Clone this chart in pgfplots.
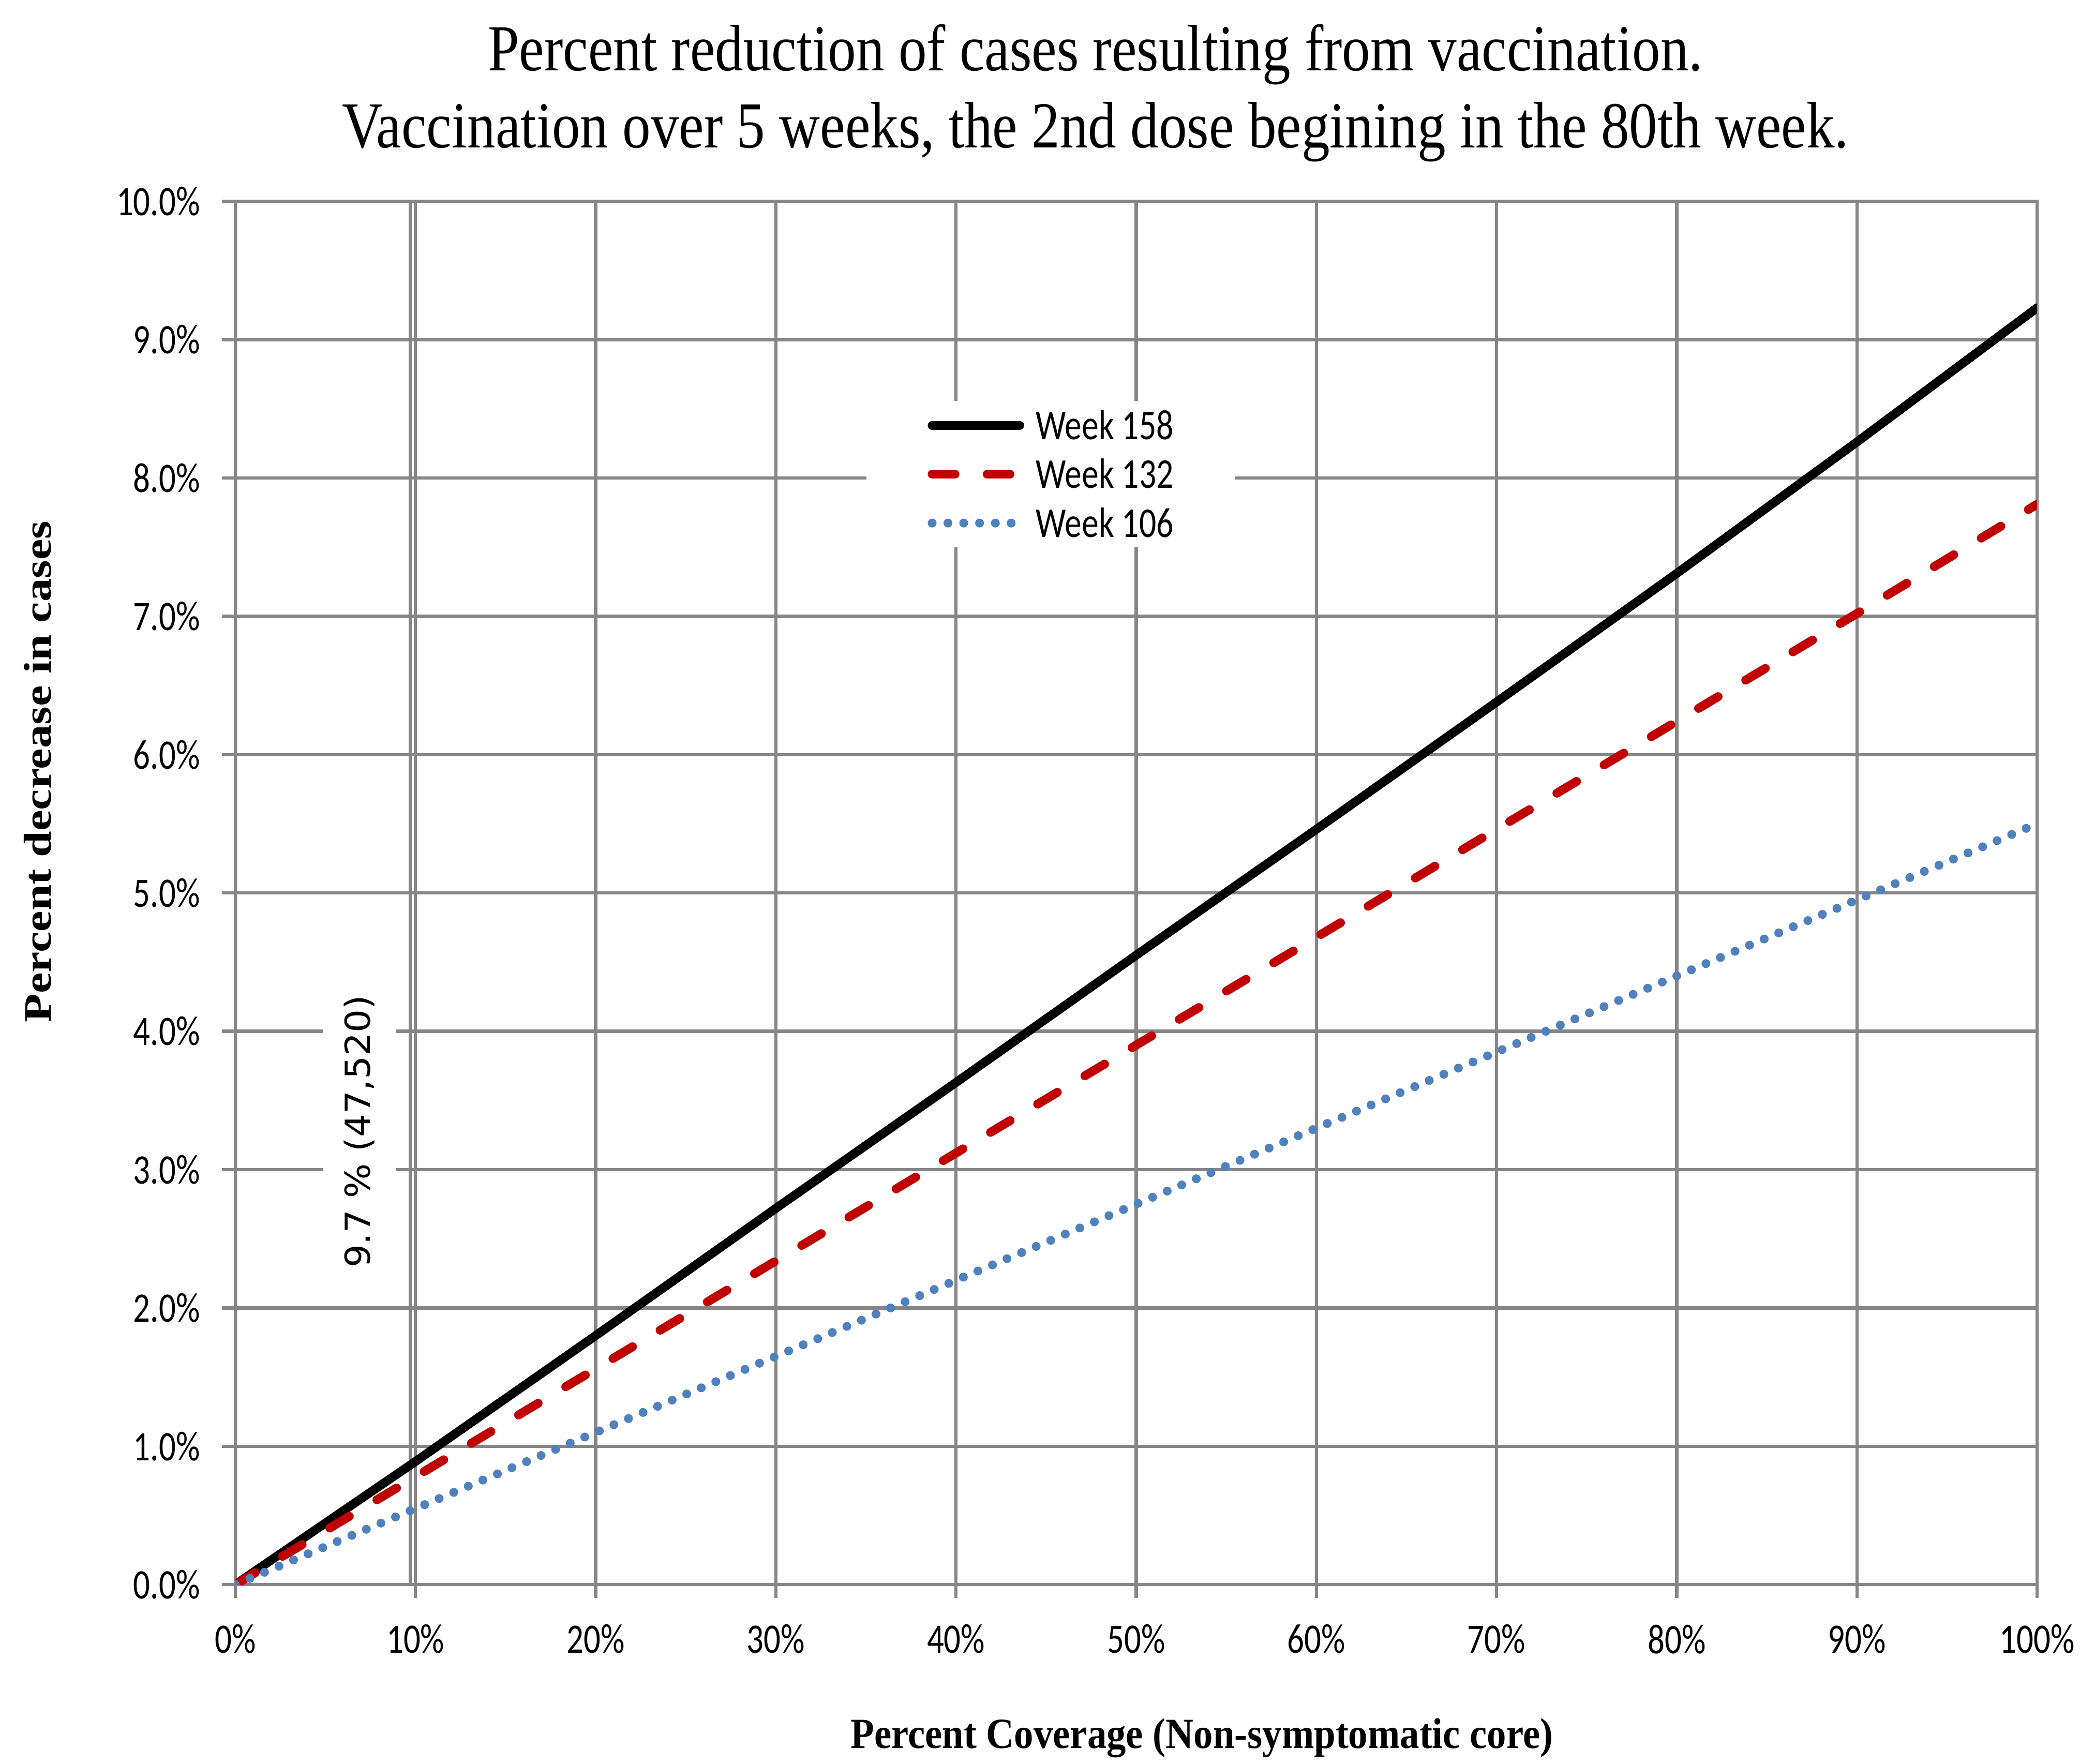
\documentclass[border=0pt]{standalone}
\usepackage{pgfplots}
\pgfplotsset{compat=1.18}
\usepackage{fontspec}
\setmainfont{Liberation Serif}
% the reference is drawn a little tall, so the fonts are stretched to match
\newfontfamily\titlefont[FakeStretch=0.86]{Liberation Serif}
\newfontfamily\xlabfont[FakeStretch=0.90]{Liberation Serif}
\newfontfamily\ylabfont[FakeStretch=1.21]{Liberation Serif}
\newfontfamily\tickfont[FakeStretch=0.80]{Carlito}
\newfontfamily\annofont[FakeStretch=1.06]{DejaVu Sans}

\definecolor{gridgray}{RGB}{134,134,134}
\definecolor{wkred}{RGB}{192,0,0}
\definecolor{wkblue}{RGB}{79,129,189}

\begin{document}
\begin{tikzpicture}
\path[use as bounding box] (0,0) rectangle (15.68,13.297);
\begin{axis}[
    at={(1.774cm,1.352cm)}, anchor=south west,
    width=13.582cm, height=10.427cm, scale only axis,
    xmin=0, xmax=100, ymin=0, ymax=10,
    xtick={0,10,...,100}, ytick={0,1,...,10},
    extra x ticks={9.7}, extra x tick labels={},
    extra x tick style={grid=major, major tick length=0pt},
    grid=major,
    grid style={gridgray, line width=0.7pt},
    axis line style={gridgray, line width=0.7pt},
    tick style={gridgray, line width=0.7pt},
    major tick length=0.1cm, tick align=outside, tick pos=left,
    /pgf/number format/assume math mode=true,
    xticklabel={\pgfmathprintnumber{\tick}\%},
    yticklabel={\pgfmathprintnumber[fixed,fixed zerofill,precision=1]{\tick}\%},
    ticklabel style={font=\tickfont\fontsize{9}{10}\selectfont},
    xticklabel style={anchor=north, inner sep=0pt, yshift=-0.195cm},
    yticklabel style={anchor=east, inner sep=0pt, xshift=-0.16cm},
    legend style={at={(0.4525,0.8027)}, anchor=center, draw=none, fill=white,
        inner xsep=0.46cm, inner ysep=0pt, row sep=0pt, column sep=0.09cm,
        font=\tickfont\fontsize{9.1}{10}\selectfont,
        nodes={inner sep=0pt, text height=0.289cm, text depth=0.079cm}},
    legend cell align=left,
    legend image code/.code={\draw[#1] (0cm,0cm) -- (0.66cm,0cm);},
]
\addplot[black, line width=1.9pt, line cap=round] coordinates {
    (0,0) (10,0.89) (20,1.80) (30,2.72) (40,3.63) (50,4.55)
    (60,5.46) (70,6.38) (80,7.31) (90,8.26) (100,9.23)};
\addlegendentry{Week 158}
\addplot[wkred, line width=1.9pt, line cap=round, dash pattern=on 4.9pt off 6.9pt] coordinates {
    (0,0) (10,0.78) (20,1.56) (30,2.34) (40,3.12) (50,3.90)
    (60,4.68) (70,5.46) (80,6.24) (90,7.02) (100,7.81)};
\addlegendentry{Week 132}
\addplot[wkblue, line width=1.9pt, line cap=round, dash pattern=on 0pt off 3.39pt] coordinates {
    (0,0) (10,0.55) (20,1.10) (30,1.65) (40,2.20) (50,2.75)
    (60,3.30) (70,3.85) (80,4.40) (90,4.95) (100,5.50)};
\addlegendentry{Week 106}

\node[rotate=90, fill=white, inner xsep=0.1cm, inner ysep=0.16cm,
    font=\annofont\fontsize{7.4}{9}\selectfont] at (axis cs:6.89,3.275) {9.7 \% (47,520)};
\end{axis}

\node[anchor=base, font=\titlefont\fontsize{14.08}{16.5}\selectfont] at (8.257,12.763)
    {Percent reduction of cases resulting from vaccination.};
\node[anchor=base, font=\titlefont\fontsize{14.08}{16.5}\selectfont] at (8.257,12.182)
    {Vaccination over 5 weeks, the 2nd dose begining in the 80th week.};
\node[anchor=base, font=\xlabfont\bfseries\fontsize{9.22}{11}\selectfont] at (9.06,0.117)
    {Percent Coverage (Non-symptomatic core)};
\node[rotate=90, anchor=base, font=\ylabfont\bfseries\fontsize{8.34}{10}\selectfont] at (0.386,7.48)
    {Percent decrease in cases};
\end{tikzpicture}
\end{document}
